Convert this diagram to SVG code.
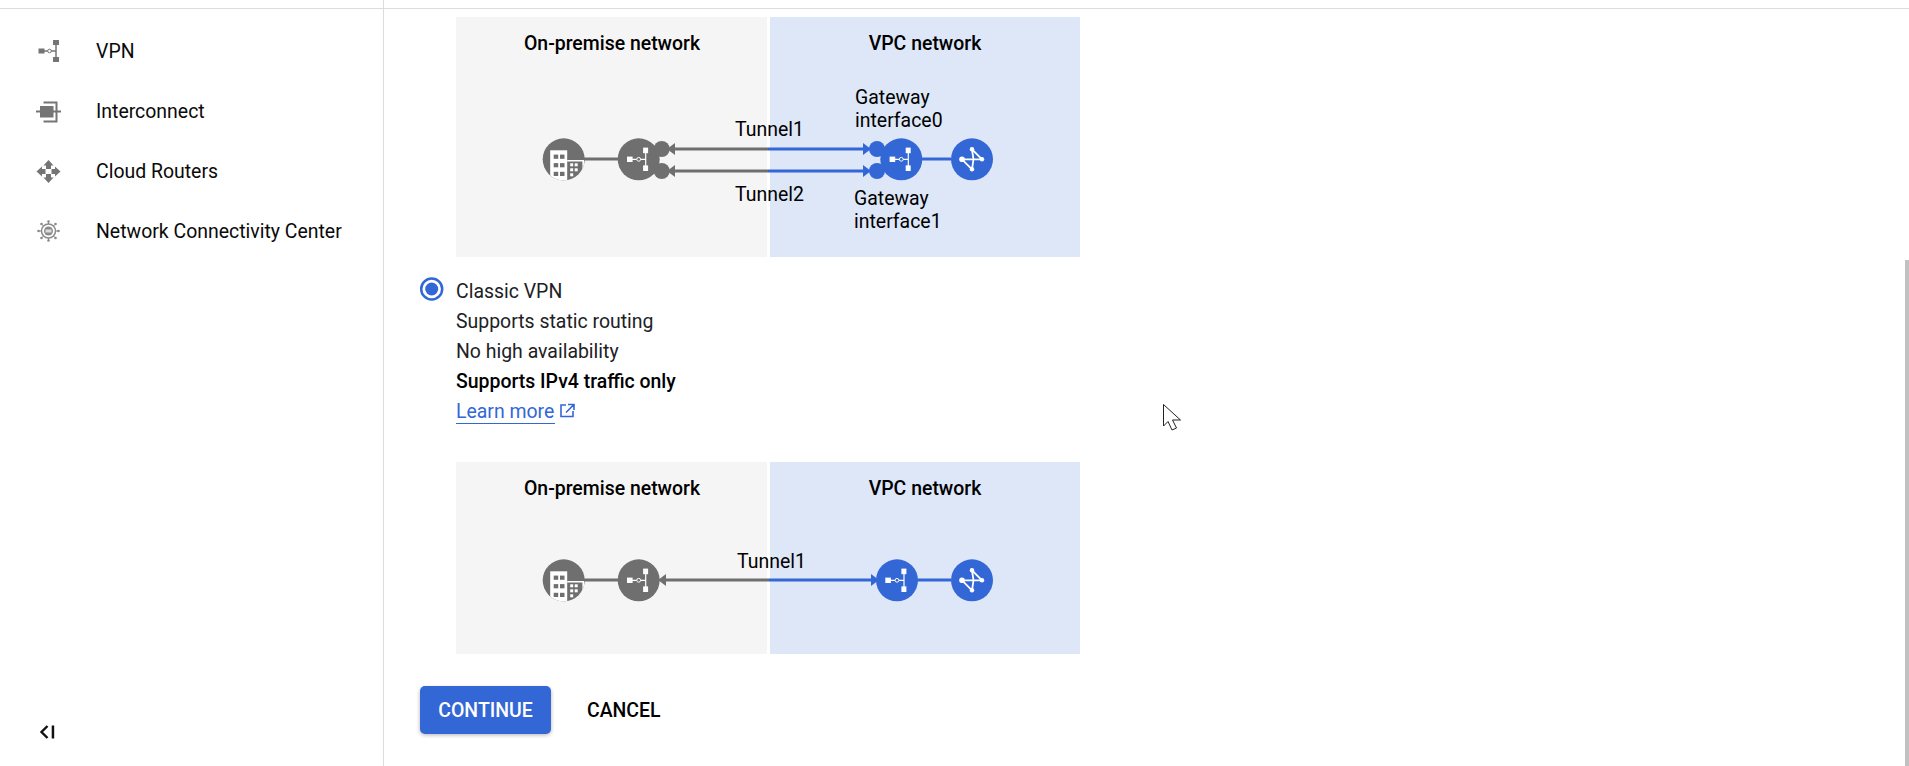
<svg xmlns="http://www.w3.org/2000/svg" width="1909" height="766" viewBox="0 0 1909 766">
<style>
text{font-family:Roboto,"Liberation Sans",sans-serif;fill:#000;font-size:19.45px}
.side{fill:#0a0a0a}
.body{fill:#202124}
.title{font-weight:500;text-anchor:middle}
.gl{stroke:#6f6f6f;stroke-width:3;fill:none}
.bl{stroke:#3367d6;stroke-width:3;fill:none}
.g{fill:#6f6f6f}.b{fill:#3367d6}
</style>
<defs>
<filter id="sh" x="-10%" y="-20%" width="120%" height="150%"><feGaussianBlur stdDeviation="2"/></filter>
<g id="vpn"><path d="M-8 0H7M7-9V9" stroke="#fff" stroke-width="1.2" fill="none"/><rect x="-11.7" y="-2.7" width="5.6" height="5.4" fill="#fff"/><rect x="4.4" y="-11.7" width="5" height="5.6" fill="#fff"/><rect x="4.4" y="6.1" width="5" height="5.6" fill="#fff"/><circle r="1.9" fill="#6f6f6f" stroke="#fff" stroke-width="1"/></g>
<g id="vpnb"><path d="M-8 0H7M7-9V9" stroke="#fff" stroke-width="1.2" fill="none"/><rect x="-11.7" y="-2.7" width="5.6" height="5.4" fill="#fff"/><rect x="4.4" y="-11.7" width="5" height="5.6" fill="#fff"/><rect x="4.4" y="6.1" width="5" height="5.6" fill="#fff"/><circle r="1.9" fill="#3367d6" stroke="#fff" stroke-width="1"/></g>
<g id="router"><path d="M-10 0H10L0-10L1.500 0L0 10L-10 0" stroke="#fff" stroke-width="1.800" fill="none"/><circle cx="-10" r="2.800" fill="#fff"/><circle cx="10" r="2.200" fill="#fff"/><circle cy="-10" r="2.200" fill="#fff"/><circle cy="10" r="2.200" fill="#fff"/></g>
<clipPath id="cc"><circle r="21"/></clipPath>
<g id="bld"><circle r="21" fill="#6f6f6f"/><g clip-path="url(#cc)"><rect x="-13.500" y="-9" width="17" height="30" fill="#fff"/><path d="M3.500 1.500H19.500V21" fill="none" stroke="#fff" stroke-width="1.600"/><g fill="#6f6f6f"><rect x="-10" y="-4.700" width="4.500" height="4.200"/><rect x="-3.700" y="-4.700" width="4.500" height="4.200"/><rect x="-10" y="3.800" width="4.500" height="4.200"/><rect x="-3.700" y="3.800" width="4.500" height="4.200"/><rect x="-10" y="12.500" width="4.500" height="4.200"/><rect x="-3.700" y="12.500" width="4.500" height="4.200"/></g><g fill="#fff"><rect x="6.500" y="4" width="3" height="3"/><rect x="11" y="4" width="3" height="3"/><rect x="6.500" y="9" width="3" height="3"/><rect x="11" y="9" width="3" height="3"/><rect x="6.500" y="14" width="3" height="3"/></g></g></g>
</defs>
<rect width="1909" height="766" fill="#fff"/>
<g id="chrome">
<rect x="0" y="8" width="1909" height="1" fill="#dadce0"/>
<rect x="383" y="0" width="1" height="766" fill="#dadce0"/>
<rect x="1905" y="260" width="4" height="506" fill="#c1c1c1"/>
</g>
<g id="sidebar">
<g id="nav-vpn"><path d="M42 51H56M56 44V58" stroke="#757575" stroke-width="1.500" fill="none"/><rect x="38.500" y="48.500" width="6" height="5" fill="#757575"/><rect x="53" y="40" width="6" height="5" fill="#757575"/><rect x="53" y="57" width="6" height="5" fill="#757575"/><circle cx="49.500" cy="51" r="1.800" fill="#fff" stroke="#757575"/><text class="side" x="96" y="58">VPN</text></g>
<g id="nav-interconnect"><rect x="40" y="106" width="13.500" height="11.500" fill="#757575"/><path d="M36 111.500H41M53 111.500H61M43.500 102.500H56.500V121.500H43.500" fill="none" stroke="#757575" stroke-width="2"/><text class="side" x="96" y="118">Interconnect</text></g>
<g id="nav-routers" fill="#757575"><path d="M48.500 160l5 5.500h-2.500v3.500h-5v-3.500h-2.500zM48.500 183l5-5.500h-2.500v-3.500h-5v3.500h-2.500zM36.500 171.500l5.500-5v2.500h3.500v5h-3.500v2.500zM60.500 171.500l-5.500-5v2.500h-3.500v5h3.500v2.500z"/><text class="side" x="96" y="178">Cloud Routers</text></g>
<g id="nav-ncc"><g stroke="#8a8a8a" stroke-width="1"><path d="M48.500 222V240M39 231H58M42 224.500L55 237.500M55 224.500L42 237.500"/></g><g fill="#8a8a8a"><circle cx="48.500" cy="221.500" r="1.300"/><circle cx="48.500" cy="240.500" r="1.300"/><circle cx="38.500" cy="231" r="1.300"/><circle cx="58.500" cy="231" r="1.300"/><circle cx="41.500" cy="224" r="1.300"/><circle cx="55.500" cy="224" r="1.300"/><circle cx="41.500" cy="238" r="1.300"/><circle cx="55.500" cy="238" r="1.300"/></g><circle cx="48.500" cy="231" r="7" fill="#fff" stroke="#8a8a8a" stroke-width="1.500"/><circle cx="48.500" cy="231" r="4.500" fill="#8a8a8a"/><rect x="45.500" y="229.500" width="6" height="3" fill="#ddd"/><text class="side" x="96" y="238">Network Connectivity Center</text></g>
<g id="collapse"><path d="M47.500 726L41.500 732L47.500 738" fill="none" stroke="#111" stroke-width="2.400"/><rect x="51.700" y="725.500" width="2.500" height="13" fill="#111"/></g>
</g>
<g id="panels">
<rect x="456" y="17" width="311" height="240" fill="#f5f5f5"/><rect x="770" y="17" width="310" height="240" fill="#dde7f8"/>
<rect x="456" y="462" width="311" height="192" fill="#f5f5f5"/><rect x="770" y="462" width="310" height="192" fill="#dde7f8"/>
<text class="title" x="612" y="50">On-premise network</text><text class="title" x="925" y="50">VPC network</text>
<text class="title" x="612" y="495">On-premise network</text><text class="title" x="925" y="495">VPC network</text>
</g>
<g id="connectors">
<path class="gl" d="M584 159H618"/><path class="bl" d="M921 159H951"/>
<path class="gl" d="M670 149H768M670 171H768"/><path class="bl" d="M768 149H866M768 171H866"/>
<path class="g" d="M667 149l8-6v12zM667 171l8-6v12z"/><path class="b" d="M871 149l-8-6v12zM871 171l-8-6v12z"/>
<path class="gl" d="M584 580H618"/><path class="bl" d="M917 580H951"/>
<path class="gl" d="M662 580H769"/><path class="bl" d="M769 580H874"/>
<path class="g" d="M658 580l8-6v12z"/><path class="b" d="M879 580l-8-6v12z"/>
</g>
<g id="node-building-1"><use href="#bld" x="563.700" y="159.300"/></g>
<g id="node-vpn-1"><circle class="g" cx="638.700" cy="159.300" r="21"/><circle class="g" cx="661.700" cy="149" r="8"/><circle class="g" cx="661.700" cy="171" r="8"/><use href="#vpn" x="638.700" y="159.300"/></g>
<g id="node-vpn-2"><circle class="b" cx="901.300" cy="159.300" r="21"/><circle class="b" cx="877" cy="149" r="8"/><circle class="b" cx="877" cy="171" r="8"/><use href="#vpnb" x="901.300" y="159.300"/></g>
<g id="node-router-1"><circle class="b" cx="972" cy="159.300" r="21"/><use href="#router" x="972" y="159.300"/></g>
<g id="node-building-2"><use href="#bld" x="563.700" y="580.300"/></g>
<g id="node-vpn-3"><circle class="g" cx="638.700" cy="580.300" r="21"/><use href="#vpn" x="638.700" y="580.300"/></g>
<g id="node-vpn-4"><circle class="b" cx="897" cy="580.300" r="21"/><use href="#vpnb" x="897" y="580.300"/></g>
<g id="node-router-2"><circle class="b" cx="972" cy="580.300" r="21"/><use href="#router" x="972" y="580.300"/></g>
<g id="labels">
<text x="735" y="136">Tunnel1</text><text x="735" y="200.500">Tunnel2</text>
<text x="855" y="104">Gateway</text><text x="855" y="127">interface0</text>
<text x="854" y="205">Gateway</text><text x="854" y="228">interface1</text>
<text x="737" y="568">Tunnel1</text>
</g>
<g id="option">
<circle cx="431.700" cy="289" r="10.500" fill="none" stroke="#3367d6" stroke-width="2.500"/><circle cx="431.700" cy="289" r="6.500" fill="#3367d6"/>
<text class="body" x="456" y="297.500">Classic VPN</text><text class="body" x="456" y="328">Supports static routing</text><text class="body" x="456" y="358">No high availability</text>
<text class="body" x="456" y="388" style="font-weight:500;fill:#000">Supports IPv4 traffic only</text>
<text class="body" x="456" y="418" style="fill:#3367d6">Learn more</text><rect x="456" y="423" width="99" height="1" fill="#3367d6"/>
<path d="M566 405H561V416.500H573V411M568 404.500H574V410M573.500 405L566 412.500" fill="none" stroke="#3367d6" stroke-width="1.600"/>
</g>
<g id="buttons">
<rect x="420" y="688" width="131" height="47" rx="5" fill="#000" opacity=".3" filter="url(#sh)"/>
<rect x="420" y="686" width="131" height="48" rx="5" fill="#3367d6"/>
<text x="485.500" y="717" text-anchor="middle" style="font-weight:500;fill:#fff">CONTINUE</text>
<text x="587" y="717" style="font-weight:500">CANCEL</text>
</g>
<g id="cursor"><path d="M1163.500 404.500V426L1168 421.500L1172 430L1176.500 428L1172.500 420H1180.500Z" fill="#fff" stroke="#222" stroke-width="1"/></g>
</svg>
